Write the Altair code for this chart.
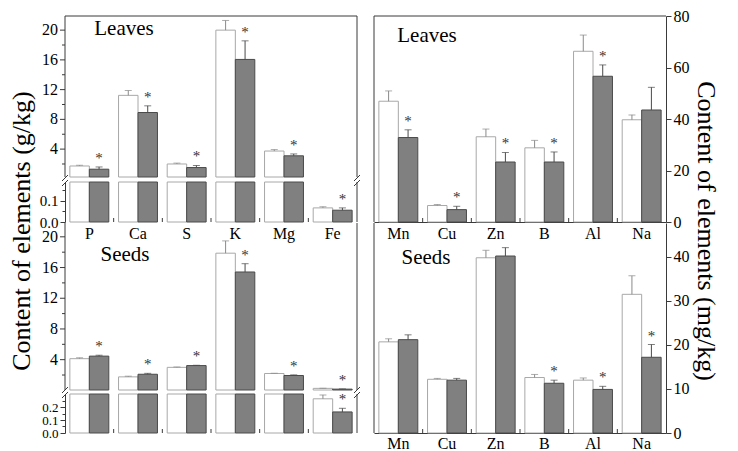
import altair as alt
import pandas as pd

FONT = "Liberation Serif"
AX = "#3a3a3a"
SERIES = ["Control", "Treatment"]
W = 292

macro = ["P", "Ca", "S", "K", "Mg", "Fe"]
micro = ["Mn", "Cu", "Zn", "B", "Al", "Na"]

# Leaves, macro elements (g/kg)
leaf_macro_ctrl = [1.73, 11.23, 2.00, 20.00, 3.74, 0.067]
leaf_macro_ctrl_err = [0.10, 0.65, 0.12, 1.30, 0.20, 0.006]
leaf_macro_trt = [1.30, 8.92, 1.52, 16.06, 3.10, 0.056]
leaf_macro_trt_err = [0.30, 0.90, 0.28, 2.50, 0.25, 0.011]
leaf_macro_star = [1, 1, 1, 1, 1, 1]

# Leaves, micro elements (mg/kg)
leaf_micro_ctrl = [46.9, 6.4, 33.1, 28.8, 66.3, 39.7]
leaf_micro_ctrl_err = [4.0, 0.4, 3.0, 2.9, 6.3, 1.9]
leaf_micro_trt = [32.8, 4.8, 23.3, 23.3, 56.6, 43.5]
leaf_micro_trt_err = [3.0, 1.3, 3.7, 3.9, 4.4, 8.8]
leaf_micro_star = [1, 1, 1, 1, 1, 0]

# Seeds, macro elements (g/kg)
seed_macro_ctrl = [4.13, 1.76, 3.00, 17.87, 2.20, 0.263]
seed_macro_ctrl_err = [0.12, 0.09, 0.05, 1.60, 0.03, 0.030]
seed_macro_trt = [4.46, 2.10, 3.23, 15.42, 1.94, 0.162]
seed_macro_trt_err = [0.12, 0.12, 0.04, 1.08, 0.08, 0.028]
seed_macro_star = [1, 1, 1, 1, 1, 1]

# Seeds, micro elements (mg/kg)
seed_micro_ctrl = [20.7, 12.2, 39.8, 12.6, 12.0, 31.5]
seed_micro_ctrl_err = [0.7, 0.2, 1.7, 0.7, 0.5, 4.2]
seed_micro_trt = [21.2, 12.0, 40.2, 11.3, 9.9, 17.2]
seed_micro_trt_err = [1.1, 0.4, 1.9, 0.7, 0.7, 2.9]
seed_micro_star = [0, 0, 0, 1, 1, 1]

# Upper (broken) axis ticks of the g/kg panels
upper_major_ticks = [4, 8, 12, 16, 20]
upper_minor_ticks = [2, 6, 10, 14, 18]


def make_df(elements, c, ce, t, te, stars):
    rows = []
    for i, e in enumerate(elements):
        rows.append(dict(element=e, series=SERIES[0], value=c[i], err=ce[i], star=0))
        rows.append(dict(element=e, series=SERIES[1], value=t[i], err=te[i], star=stars[i]))
    df = pd.DataFrame(rows)
    df["top"] = df["value"] + df["err"]
    return df


lm = make_df(macro, leaf_macro_ctrl, leaf_macro_ctrl_err, leaf_macro_trt, leaf_macro_trt_err, leaf_macro_star)
li = make_df(micro, leaf_micro_ctrl, leaf_micro_ctrl_err, leaf_micro_trt, leaf_micro_trt_err, leaf_micro_star)
sm = make_df(macro, seed_macro_ctrl, seed_macro_ctrl_err, seed_macro_trt, seed_macro_trt_err, seed_macro_star)
si = make_df(micro, seed_micro_ctrl, seed_micro_ctrl_err, seed_micro_trt, seed_micro_trt_err, seed_micro_star)

DUMMY = pd.DataFrame({"a": [0]})

FILL = alt.Fill("series:N", scale=alt.Scale(domain=SERIES, range=["#ffffff", "#808080"]), legend=None)
STROKE = alt.Stroke("series:N", scale=alt.Scale(domain=SERIES, range=["#a8a8a8", "#4a4a4a"]), legend=None)
COL = alt.Color("series:N", scale=alt.Scale(domain=SERIES, range=["#8a8a8a", "#4a4a4a"]), legend=None)
XO = alt.XOffset("series:N", scale=alt.Scale(domain=SERIES, paddingInner=0, paddingOuter=0))


def X(elements, **k):
    return alt.X("element:N", sort=elements,
                 scale=alt.Scale(domain=elements, paddingInner=0.2, paddingOuter=0.1),
                 title=None, **k)


def line(x0, x1, y0, y1):
    return alt.Chart(DUMMY).mark_rule(color=AX, strokeWidth=1).encode(
        x=alt.value(x0), x2=alt.value(x1), y=alt.value(y0), y2=alt.value(y1))


def breaks(xpos, ygap):
    return [line(xpos - 3, xpos + 3, ygap + d, ygap + d - 6) for d in (4, -1)]


def band_ticks(elements, h):
    # ticks at the boundaries between groups: band start minus half the inner padding
    d = pd.DataFrame({"element": elements[1:]})
    half_gap = 0.1 * W / 6.0
    return alt.Chart(d).mark_rule(color=AX, strokeWidth=1, xOffset=-half_gap).encode(
        x=X(elements, bandPosition=0), y=alt.value(h), y2=alt.value(h - 4))


def cat_labels(elements):
    d = pd.DataFrame({"element": elements})
    return alt.Chart(d).mark_text(font=FONT, fontSize=16, baseline="middle", color="black").encode(
        x=X(elements), y=alt.value(11), text="element:N")


def label(name, cx, cy, size=21, angle=0):
    return alt.Chart(DUMMY).mark_text(text=name, font=FONT, fontSize=size, align="center", angle=angle,
                                      baseline="middle", color="black").encode(
        x=alt.value(cx), y=alt.value(cy))


def upper_axis(h):
    dmaj = pd.DataFrame({"v": upper_major_ticks})
    dmin = pd.DataFrame({"v": upper_minor_ticks})
    tmaj = alt.Chart(dmaj).mark_rule(color=AX, strokeWidth=1).encode(
        x=alt.value(0), x2=alt.value(-5), y=alt.Y("v:Q", title=None))
    tmin = alt.Chart(dmin).mark_rule(color=AX, strokeWidth=1).encode(
        x=alt.value(0), x2=alt.value(-3), y=alt.Y("v:Q", title=None))
    labs = alt.Chart(dmaj).mark_text(align="right", baseline="middle", font=FONT, fontSize=16,
                                     color="black").encode(
        x=alt.value(-7), y=alt.Y("v:Q", title=None), text=alt.Text("v:Q", format="d"))
    return [tmaj, tmin, labs, line(0, 0, 0, h)]


def segment(df, elements, domain, rng, xaxis, yaxis_spec=None, extra=()):
    lo, hi = domain
    if yaxis_spec is None:
        yaxis = None
    else:
        yvals, major, fmt, orient, lab_size = yaxis_spec
        yaxis = alt.Axis(orient=orient, values=yvals, format=fmt,
                         labelExpr=f"({major}) ? datum.label : ''",
                         tickSize={"condition": {"test": major, "value": 5}, "value": 3},
                         labelOverlap=False, labelPadding=2, labelFontSize=lab_size, title=None)
    ysc = alt.Scale(domain=[lo, hi], range=rng, nice=False, zero=False, clamp=True)
    base = alt.Chart(df)
    xa = X(elements, axis=xaxis)
    bars = base.transform_filter(f"datum.value > {lo}").mark_bar(strokeWidth=1).encode(
        x=xa, xOffset=XO,
        y=alt.Y("value:Q", scale=ysc, axis=yaxis, title=None), y2=alt.datum(lo),
        fill=FILL, stroke=STROKE)
    err = base.transform_filter(f"datum.value > {lo} && datum.value < {hi}").mark_rule(strokeWidth=1).encode(
        x=xa, xOffset=XO, y=alt.Y("value:Q", title=None), y2="top:Q", color=COL)
    cap = base.transform_filter(f"datum.top > {lo} && datum.top <= {hi}").mark_tick(
        orient="horizontal", size=7, thickness=1).encode(
        x=xa, xOffset=XO, y=alt.Y("top:Q", title=None), color=COL)
    stars = base.transform_filter(
        f"datum.star == 1 && datum.top > {lo} && datum.top <= {hi}"
    ).mark_text(text="*", font=FONT, fontSize=15, dy=-4, baseline="alphabetic", fill="#333333").encode(
        x=xa, xOffset=XO, y=alt.Y("top:Q", title=None))
    return alt.layer(bars, err, cap, stars, *extra)


AX_HIDDEN = alt.Axis(labels=False, ticks=False, domain=False, title=None)
AX_DOMAIN = alt.Axis(labels=False, ticks=False, domain=True, title=None)
AX_LABELS = alt.Axis(labels=True, ticks=False, domain=True, labelAngle=0, labelPadding=2, title=None)

low_major = "abs(datum.value * 10 - round(datum.value * 10)) < 0.001"

# Top-left (leaves, g/kg), broken axis
TL_UP, TL_GAP, TL_H = 161, 166, 206
tl = alt.layer(
    segment(lm, macro, (0.25, 21.9), [TL_UP, 0], AX_HIDDEN, None, upper_axis(TL_UP)),
    segment(lm, macro, (0.0, 0.19), [TL_H, TL_GAP], AX_DOMAIN,
            ([0, 0.05, 0.1, 0.15], low_major, ".1f", "left", 15)),
    line(0, W, 0, 0), line(W, W, 0, TL_UP), line(W, W, TL_GAP, TL_H),
    band_ticks(macro, TL_H), *breaks(0, TL_GAP), *breaks(W, TL_GAP),
    label("Leaves", 59, 13),
    label("Content of elements (g/kg)", -43, 215, size=26, angle=270),
).resolve_scale(y="independent").properties(width=W, height=TL_H)

# Bottom-left (seeds, g/kg), broken axis
BL_UP, BL_GAP, BL_H = 167, 171, 210
bl = alt.layer(
    segment(sm, macro, (0.05, 21.8), [BL_UP, 0], AX_HIDDEN, None, upper_axis(BL_UP)),
    segment(sm, macro, (0.0, 0.3), [BL_H, BL_GAP], AX_LABELS,
            ([0, 0.05, 0.1, 0.15, 0.2, 0.25], low_major, ".1f", "left", 13)),
    line(W, W, 0, BL_UP), line(W, W, BL_GAP, BL_H),
    band_ticks(macro, BL_H), *breaks(0, BL_GAP), *breaks(W, BL_GAP),
    cat_labels(macro), label("Seeds", 60, 32),
).resolve_scale(y="independent").properties(width=W, height=BL_H)

# Top-right (leaves, mg/kg)
tr = alt.layer(
    segment(li, micro, (0, 80), [TL_H, 0], AX_DOMAIN,
            (list(range(0, 81, 10)), "datum.value % 20 == 0", "d", "right", 16)),
    line(0, W, 0, 0), line(0, 0, 0, TL_H), band_ticks(micro, TL_H), label("Leaves", 53, 20),
    label("Content of elements (mg/kg)", W + 40, 215, size=26, angle=90),
).properties(width=W, height=TL_H)

# Bottom-right (seeds, mg/kg)
br = alt.layer(
    segment(si, micro, (0, 47.7), [BL_H, 0], AX_LABELS,
            (list(range(0, 46, 5)), "datum.value % 10 == 0", "d", "right", 16)),
    line(0, 0, 0, BL_H), band_ticks(micro, BL_H), cat_labels(micro), label("Seeds", 52, 35),
).properties(width=W, height=BL_H)

chart = alt.concat(
    tl, tr, bl, br, columns=2, spacing={"row": 1, "column": 17}, bounds="flush"
).resolve_scale(
    x="independent", y="independent"
).properties(
    padding={"left": 0, "right": 5, "top": 0, "bottom": 0}
).configure_view(stroke=None).configure_axis(
    labelFont=FONT, labelFontSize=16, labelColor="black", domainColor=AX, tickColor=AX,
    domainWidth=1, tickWidth=1, grid=False,
).configure_text(font=FONT)

chart.save("out.html", embed_options={"renderer": "svg", "actions": False})
